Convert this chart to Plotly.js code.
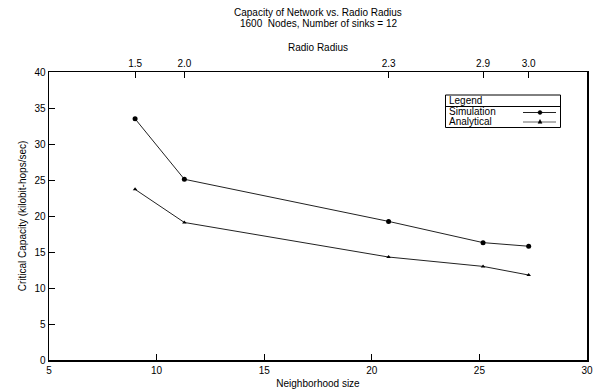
<!DOCTYPE html>
<html>
<head>
<meta charset="utf-8">
<script src="https://cdn.plot.ly/plotly-3.0.1.min.js"></script>
<style>html,body{margin:0;padding:0;background:#fff;}#chart{width:597px;height:391px;}</style>
</head>
<body>
<div id="chart"></div>
<script>
const neighborhood = [9.0, 11.29, 20.78, 25.17, 27.29];
const simulation = [33.5, 25.1, 19.25, 16.3, 15.8];
const analytical = [23.7, 19.1, 14.3, 13.0, 11.8];
const radiusLabels = ['1.5', '2.0', '2.3', '2.9', '3.0'];
const seriesNames = ['Simulation', 'Analytical'];
const titleLines = ['Capacity of Network vs. Radio Radius', '1600  Nodes, Number of sinks = 12'];

const FONT = 'Liberation Sans, Arial, sans-serif';
const L = 49, R = 587, T = 72, B = 360;
const px = x => (x - L) / (R - L);
const py = y => (B - y) / (B - T);

const traces = [
  {x: neighborhood, y: simulation, name: seriesNames[0], mode: 'lines+markers', type: 'scatter',
   line: {color: '#222', width: 1}, marker: {symbol: 'circle', size: 5, color: '#000'}, showlegend: false},
  {x: neighborhood, y: analytical, name: seriesNames[1], mode: 'lines+markers', type: 'scatter',
   line: {color: '#222', width: 1}, marker: {symbol: 'triangle-up', size: 4, color: '#000'}, showlegend: false},
  {x: neighborhood, y: simulation, xaxis: 'x2', mode: 'none', type: 'scatter', showlegend: false, hoverinfo: 'skip'}
];

const shapes = [
  {type: 'rect', xref: 'paper', yref: 'paper', x0: px(445.5), x1: px(560.5), y0: py(127.5), y1: py(95),
   line: {color: '#000', width: 1}, fillcolor: 'rgba(0,0,0,0)'},
  {type: 'line', xref: 'paper', yref: 'paper', x0: px(445.5), x1: px(560.5), y0: py(106.5), y1: py(106.5),
   line: {color: '#000', width: 1}},
  {type: 'line', xref: 'paper', yref: 'paper', x0: px(523), x1: px(556), y0: py(112.5), y1: py(112.5),
   line: {color: '#222', width: 1}},
  {type: 'circle', xref: 'paper', yref: 'paper', x0: px(538), x1: px(542), y0: py(114.5), y1: py(110.5),
   line: {color: '#000', width: 0.5}, fillcolor: '#000'},
  {type: 'line', xref: 'paper', yref: 'paper', x0: px(523), x1: px(556), y0: py(122), y1: py(122),
   line: {color: '#666', width: 1}},
  {type: 'path', xref: 'paper', yref: 'paper',
   path: `M ${px(538)} ${py(123.3)} L ${px(542)} ${py(123.3)} L ${px(540)} ${py(119.5)} Z`,
   line: {color: '#000', width: 0.5}, fillcolor: '#000'}
];

const annotations = [
  {text: titleLines[0], xref: 'paper', yref: 'paper', x: 0.5, y: py(12.5), xanchor: 'center', yanchor: 'middle',
   showarrow: false, font: {family: FONT, size: 10, color: '#000'}},
  {text: titleLines[1], xref: 'paper', yref: 'paper', x: 0.5, y: py(23.5), xanchor: 'center', yanchor: 'middle',
   showarrow: false, font: {family: FONT, size: 10, color: '#000'}},
  {text: 'Legend', xref: 'paper', yref: 'paper', x: px(447), y: py(100.5), xanchor: 'left', yanchor: 'middle',
   showarrow: false, font: {family: FONT, size: 10, color: '#000'}},
  {text: seriesNames[0], xref: 'paper', yref: 'paper', x: px(447), y: py(112), xanchor: 'left', yanchor: 'middle',
   showarrow: false, font: {family: FONT, size: 10, color: '#000'}},
  {text: seriesNames[1], xref: 'paper', yref: 'paper', x: px(447), y: py(121.8), xanchor: 'left', yanchor: 'middle',
   showarrow: false, font: {family: FONT, size: 10, color: '#000'}}
];

const layout = {
  width: 597, height: 391,
  margin: {l: L, r: 597 - R, t: T, b: 391 - B, pad: 0},
  paper_bgcolor: '#fff', plot_bgcolor: '#fff',
  font: {family: FONT, size: 10, color: '#000'},
  xaxis: {range: [5, 30], tickvals: [5, 10, 15, 20, 25, 30], ticks: 'inside', ticklen: 6, tickcolor: '#000',
          showgrid: false, zeroline: false, showline: true, linecolor: '#000', linewidth: 1.5, mirror: false,
          tickfont: {family: FONT, size: 10}, title: {text: 'Neighborhood size', font: {family: FONT, size: 10}, standoff: 5}},
  xaxis2: {range: [5, 30], overlaying: 'x', side: 'top', tickvals: neighborhood, ticktext: radiusLabels,
           ticks: 'inside', ticklen: 6, tickcolor: '#000', showgrid: false, zeroline: false, showline: true,
           linecolor: '#000', linewidth: 1.5, tickfont: {family: FONT, size: 10},
           title: {text: 'Radio Radius', font: {family: FONT, size: 10}, standoff: 4}},
  yaxis: {range: [0, 40], tickvals: [0, 5, 10, 15, 20, 25, 30, 35, 40], ticks: 'inside', ticklen: 6, tickcolor: '#000',
          showgrid: false, zeroline: false, showline: true, linecolor: '#000', linewidth: 1.5, mirror: true,
          tickfont: {family: FONT, size: 10},
          title: {text: 'Critical Capacity (kilobit-hops/sec)', font: {family: FONT, size: 10}, standoff: 6}},
  shapes: shapes,
  annotations: annotations,
  showlegend: false
};

Plotly.newPlot('chart', traces, layout, {displayModeBar: false, staticPlot: true});
</script>
</body>
</html>
